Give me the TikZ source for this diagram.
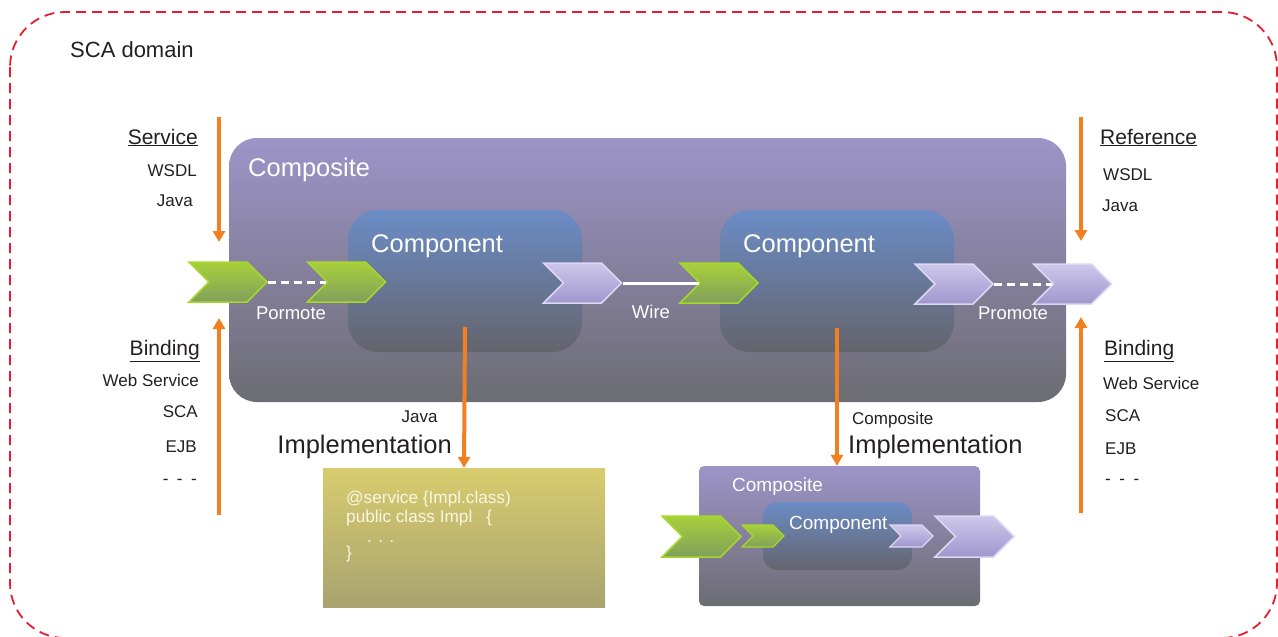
\documentclass[tikz,border=0pt]{standalone}
\usepackage{fontspec}
\setmainfont{Liberation Sans}
\usepackage{tikz}
\usetikzlibrary{arrows.meta,positioning,shapes.symbols}
\definecolor{rouge}{RGB}{230,30,45}
\definecolor{orangefl}{RGB}{242,128,32}
\definecolor{violethaut}{RGB}{157,148,200}
\definecolor{grisbas}{RGB}{108,108,114}
\definecolor{bleuhaut}{RGB}{107,140,198}
\definecolor{grisbleu}{RGB}{100,100,108}
\definecolor{verthaut}{RGB}{168,208,58}
\definecolor{vertbas}{RGB}{128,160,92}
\definecolor{vertbord}{RGB}{165,215,45}
\definecolor{mauvehaut}{RGB}{205,200,235}
\definecolor{mauvebas}{RGB}{160,150,205}
\definecolor{mauvebord}{RGB}{220,215,242}
\definecolor{jaunehaut}{RGB}{216,204,110}
\definecolor{jaunebas}{RGB}{168,163,112}
\definecolor{creme}{RGB}{250,246,228}
\definecolor{encre}{RGB}{35,31,32}

\begin{document}
\begin{tikzpicture}[x=1pt,y=-1pt,
		boite/.style={rounded corners=28pt,inner sep=0pt,top color=violethaut,bottom color=grisbas},
		compo/.style={rounded corners=30pt,inner sep=0pt,top color=bleuhaut,bottom color=grisbleu},
		chevsvc/.style={signal,signal to=east,signal from=west,signal pointer angle=90,inner sep=0pt,line width=1.5pt,draw=vertbord,top color=verthaut,bottom color=vertbas},
		chevref/.style={signal,signal to=east,signal from=west,signal pointer angle=90,inner sep=0pt,line width=1.5pt,draw=mauvebord,top color=mauvehaut,bottom color=mauvebas},
		fleche/.style={orangefl,line width=4pt,-{Triangle[width=12pt,length=11pt]}},
		blanc/.style={text=white,inner sep=0pt,font=\fontsize{18.5}{20}\selectfont},
		grand/.style={inner sep=0pt,font=\fontsize{25.5}{28}\selectfont},
		cote/.style={text=encre,inner sep=0pt,font=\fontsize{17}{20}\selectfont},
		titre/.style={text=encre,inner sep=0pt,font=\fontsize{21}{24}\selectfont},
		code/.style={text=creme,inner sep=0pt,font=\fontsize{17.2}{20}\selectfont}]
	\clip (0,0) rectangle (1278,637);
	\draw[rouge,line width=1.8pt,dash pattern=on 10pt off 6pt,rounded corners=55pt] (10,12) rectangle (1277,638);
	\node[titre,font=\fontsize{22}{24}\selectfont,anchor=base west] (domaine) at (70,57) {SCA domain};
	% composite principal
	\node[boite,minimum width=837pt,minimum height=264pt] (composite) at (647.5,270) {};
	\node[compo,minimum width=234pt,minimum height=142pt] (compA) at (465,281) {};
	\node[compo,minimum width=234pt,minimum height=142pt] (compB) at (837,281) {};
	\node[grand,text=white,anchor=base west] (nomComposite) at (248,176) {Composite};
	\node[grand,text=white,anchor=base west] (nomA) at (371,252) {Component};
	\node[grand,text=white,anchor=base west] (nomB) at (743,252) {Component};
	% services et references
	\node[chevsvc,minimum width=78pt,minimum height=40pt] (svcA) at (228,282) {};
	\node[chevsvc,minimum width=78pt,minimum height=40pt] (svcB) at (346.5,282) {};
	\node[chevref,minimum width=78pt,minimum height=40pt] (refA) at (582.5,283) {};
	\node[chevsvc,minimum width=78pt,minimum height=40pt] (svcC) at (719,283) {};
	\node[chevref,minimum width=78pt,minimum height=40pt] (refB) at (954,284) {};
	\node[chevref,minimum width=78pt,minimum height=40pt] (refC) at (1072.5,284) {};
	\draw[white,line width=3pt,dash pattern=on 8pt off 5pt] (svcA.east) -- (svcB.west);
	\draw[white,line width=3pt] (refA.east) -- (svcC.west);
	\draw[white,line width=3pt,dash pattern=on 8pt off 5pt] (refB.east) -- (refC.west);
	\node[blanc,anchor=base] (txtPormote) at (291,319) {Pormote};
	\node[blanc,anchor=base] (txtWire) at (651,318) {Wire};
	\node[blanc,anchor=base] (txtPromote) at (1013,319) {Promote};
	% fleches orange
	\coordinate (svcHaut) at (219,117);
	\coordinate (svcFin) at (219,242);
	\coordinate (bindBas) at (219,515);
	\coordinate (bindFin) at (219,318);
	\coordinate (refHaut) at (1081,117);
	\coordinate (refFin) at (1081,241);
	\coordinate (rbindBas) at (1081,513);
	\coordinate (rbindFin) at (1081,317);
	\draw[fleche] (svcHaut) -- (svcFin);
	\draw[fleche] (bindBas) -- (bindFin);
	\draw[fleche] (refHaut) -- (refFin);
	\draw[fleche] (rbindBas) -- (rbindFin);
	% textes a gauche
	\node[titre,anchor=base east] (txtService) at (198,144) {\underline{Service}};
	\node[cote,anchor=base east] (txtWsdlG) at (197,176) {WSDL};
	\node[cote,anchor=base east] (txtJavaG) at (193,206) {Java};
	\node[titre,anchor=base east] (txtBindG) at (200,355) {\underline{Binding}};
	\node[cote,anchor=base east] (txtWsG) at (199,386) {Web Service};
	\node[cote,anchor=base east] (txtScaG) at (198,417) {SCA};
	\node[cote,anchor=base east] (txtEjbG) at (197,452) {EJB};
	\node[cote,anchor=base east] (txtEtcG) at (197,484) {-\hspace{8.5pt}-\hspace{8.5pt}-};
	% textes a droite
	\node[titre,anchor=base west] (txtReference) at (1100,144) {\underline{Reference}};
	\node[cote,anchor=base west] (txtWsdlD) at (1103,180) {WSDL};
	\node[cote,anchor=base west] (txtJavaD) at (1102,211) {Java};
	\node[titre,anchor=base west] (txtBindD) at (1104,355) {\underline{Binding}};
	\node[cote,anchor=base west] (txtWsD) at (1103,389) {Web Service};
	\node[cote,anchor=base west] (txtScaD) at (1105,421) {SCA};
	\node[cote,anchor=base west] (txtEjbD) at (1105,454) {EJB};
	\node[cote,anchor=base west] (txtEtcD) at (1105,484) {-\hspace{8.5pt}-\hspace{8.5pt}-};
	% implementation java
	\node[inner sep=0pt,minimum width=282pt,minimum height=139pt,top color=jaunehaut,bottom color=jaunebas] (code) at (464,537.5) {};
	\draw[fleche] ([yshift=25pt]compA.south) -- (code.north);
	\node[cote,anchor=base] (txtJavaImpl) at (419.5,422) {Java};
	\node[grand,text=encre,anchor=base east] (implA) at (452,453) {Implementation};
	\node[code,anchor=base west] (codeA) at (346,503) {@service \{Impl.class)};
	\node[code,anchor=base west] (codeB) at (346,522) {public class Impl\hspace{14pt}\{};
	\node[code,anchor=base west] (codeC) at (367,542) {. . .};
	\node[code,anchor=base west] (codeD) at (346,558) {\}};
	% implementation composite
	\node[boite,rounded corners=5pt,minimum width=281pt,minimum height=140pt] (sous) at (839.5,536) {};
	\draw[fleche] ([yshift=24pt]compB.south) -- (compB.south |- sous.north);
	\node[cote,anchor=base west] (txtCompImpl) at (852,424) {Composite};
	\node[grand,text=encre,anchor=base west] (implB) at (848,453) {Implementation};
	\node[compo,rounded corners=15pt,minimum width=149pt,minimum height=68pt] (sousCompo) at (837.5,536) {};
	\node[blanc,font=\fontsize{19}{21}\selectfont,anchor=base west] (nomSous) at (732,491) {Composite};
	\node[blanc,font=\fontsize{19}{21}\selectfont,anchor=base west] (nomSousCompo) at (789,529) {Component};
	\node[chevsvc,minimum width=79pt,minimum height=41pt] (sousSvc) at (701.5,536.5) {};
	\node[chevsvc,minimum width=42pt,minimum height=22pt,line width=1.2pt] (sousSvcB) at (763,536) {};
	\node[chevref,minimum width=43pt,minimum height=22pt,line width=1.2pt] (sousRefB) at (911.5,536) {};
	\node[chevref,minimum width=79pt,minimum height=41pt] (sousRef) at (974.5,536.5) {};
\end{tikzpicture}
\end{document}
